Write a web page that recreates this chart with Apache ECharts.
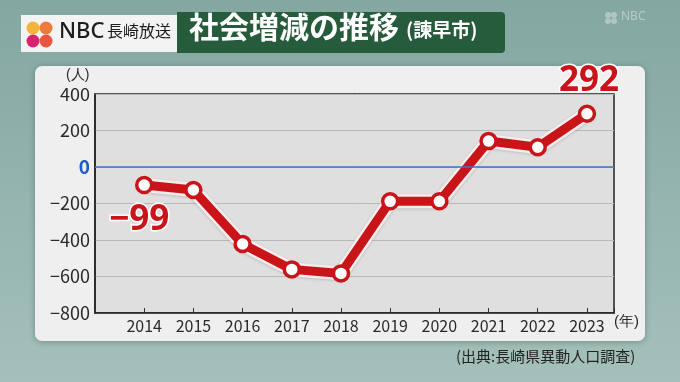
<!DOCTYPE html>
<html>
<head>
<meta charset="utf-8">
<script src="https://cdn.jsdelivr.net/npm/echarts@6/dist/echarts.min.js"></script>
<style>html,body{margin:0;padding:0;}#c{width:680px;height:382px;}</style>
</head>
<body>
<div id="c"></div>
<script>
const years = [2014, 2015, 2016, 2017, 2018, 2019, 2020, 2021, 2022, 2023];
const values = [-99, -126, -422, -561, -583, -188, -188, 142, 108, 292];
const labeledYears = [2014, 2023];
const yTicks = [-800, -600, -400, -200, 0, 200, 400];
const titleText = '社会増減の推移';
const subTitleText = '(諫早市)';
const sourceText = '(出典:長崎県異動人口調査)';

const FONT = '"Noto Sans CJK JP", "Noto Sans", sans-serif';
const RED = '#c9151a';
const fmt = v => String(v).replace('-', '−');

const lineData = years.map((y, i) => {
  const d = { value: [y, values[i]] };
  if (labeledYears.indexOf(y) >= 0) {
    const first = i === 0;
    d.label = {
      show: true,
      formatter: p => fmt(p.value[1]),
      position: first ? 'bottom' : 'top',
      distance: first ? 8 : 6,
      offset: first ? [-5, 0] : [2, 0],
      fontSize: 35,
      fontWeight: 'bold',
      fontFamily: '"Noto Sans", sans-serif',
      color: RED,
      textBorderColor: '#ffffff',
      textBorderWidth: 3
    };
  }
  return d;
});
const underData = years.map((y, i) => [y, values[i]]);

const chart = echarts.init(document.getElementById('c'), null, { renderer: 'canvas' });
chart.setOption({
  animation: false,
  backgroundColor: {
    type: 'linear', x: 0, y: 0, x2: 0, y2: 1,
    colorStops: [{ offset: 0, color: '#84a7a1' }, { offset: 1, color: '#a4c0ba' }]
  },
  textStyle: { fontFamily: FONT },
  grid: {
    left: 95, right: 66, top: 94, bottom: 69,
    show: true,
    backgroundColor: '#dfdfdf',
    borderColor: '#222',
    borderWidth: 1.5
  },
  xAxis: {
    type: 'value',
    min: 2013, max: 2023.55, interval: 1,
    axisLine: { show: true, onZero: false, lineStyle: { color: '#222', width: 1.5 } },
    axisTick: { show: true, inside: true, length: 5, lineStyle: { color: '#333' } },
    splitLine: { show: false },
    axisLabel: {
      fontSize: 16, color: '#2a2a2a', margin: 5, fontFamily: FONT,
      formatter: v => (Number.isInteger(v) && years.indexOf(v) >= 0) ? String(v) : ''
    }
  },
  yAxis: {
    type: 'value',
    min: yTicks[0], max: yTicks[yTicks.length - 1], interval: 200,
    axisLine: { show: true, lineStyle: { color: '#222', width: 1.5 } },
    axisTick: { show: false },
    splitLine: { show: true, lineStyle: { color: '#b8b8b8', width: 1 } },
    axisLabel: {
      fontSize: 18, color: '#2a2a2a', margin: 5, fontFamily: FONT,
      formatter: v => v === 0 ? '{z|0}' : fmt(v),
      rich: { z: { color: '#1d5fc4', fontWeight: 'bold', fontSize: 19, fontFamily: FONT } }
    }
  },
  series: [
    {
      type: 'line', data: underData, symbol: 'none', silent: true, z: 2,
      lineStyle: { color: '#f6ecec', width: 14, shadowColor: 'rgba(0,0,0,0.15)', shadowBlur: 3, shadowOffsetY: 1 },
      markLine: {
        silent: true, symbol: 'none', label: { show: false },
        lineStyle: { color: '#3b74c9', width: 1.5, type: 'solid' },
        data: [{ yAxis: 0 }]
      }
    },
    {
      type: 'line', data: lineData, z: 3,
      symbol: 'circle', symbolSize: 15,
      lineStyle: { color: RED, width: 9 },
      itemStyle: { color: '#ffffff', borderColor: RED, borderWidth: 3.5 }
    }
  ],
  graphic: [
    { type: 'rect', z: -10, shape: { x: 35, y: 66, width: 610, height: 275, r: 7 },
      style: { fill: '#efefef', shadowColor: 'rgba(0,0,0,0.25)', shadowBlur: 6, shadowOffsetY: 1 } },
    { type: 'text', left: 66, top: 68, style: { text: '(人)', fontSize: 14, fill: '#2a2a2a', font: '14px ' + FONT } },
    { type: 'text', left: 614, top: 314, style: { text: '(年)', fontSize: 15, fill: '#2a2a2a', font: '15px ' + FONT } },
    { type: 'text', left: 456, top: 349, style: { text: sourceText, fill: '#222', font: '15px ' + FONT } },
    // header white box
    { type: 'rect', shape: { x: 21, y: 15, width: 157, height: 37 }, style: { fill: '#f3f3f3' } },
    { type: 'circle', shape: { cx: 33, cy: 28, r: 6.5 }, style: { fill: '#f2b53a' } },
    { type: 'circle', shape: { cx: 46, cy: 28, r: 6.5 }, style: { fill: '#ee7b3c' } },
    { type: 'circle', shape: { cx: 33, cy: 41, r: 6.5 }, style: { fill: '#d8246f' } },
    { type: 'circle', shape: { cx: 46, cy: 41, r: 6.5 }, style: { fill: '#e9563f' } },
    { type: 'text', left: 59, top: 21, style: { text: 'NBC', fill: '#1c1c1c', font: '500 22px "Noto Sans", sans-serif' } },
    { type: 'text', left: 107, top: 23, style: { text: '長崎放送', fill: '#1c1c1c', font: '16px ' + FONT } },
    // header green box
    { type: 'rect', shape: { x: 177, y: 12, width: 328, height: 41, r: [0, 4, 4, 0] }, style: { fill: '#265c3c' } },
    { type: 'text', left: 189, top: 12, style: { text: titleText, fill: '#ffffff', font: 'bold 30px ' + FONT } },
    { type: 'text', left: 406, top: 20, style: { text: subTitleText, fill: '#ffffff', font: 'bold 19px ' + FONT } },
    // faint top-right logo
    { type: 'circle', shape: { cx: 608, cy: 15, r: 3 }, style: { fill: 'rgba(255,255,255,0.35)' } },
    { type: 'circle', shape: { cx: 614, cy: 15, r: 3 }, style: { fill: 'rgba(255,255,255,0.35)' } },
    { type: 'circle', shape: { cx: 608, cy: 21, r: 3 }, style: { fill: 'rgba(255,255,255,0.35)' } },
    { type: 'circle', shape: { cx: 614, cy: 21, r: 3 }, style: { fill: 'rgba(255,255,255,0.35)' } },
    { type: 'text', left: 621, top: 11, style: { text: 'NBC', fill: 'rgba(255,255,255,0.4)', font: '12px "Noto Sans", sans-serif' } }
  ]
});
</script>
</body>
</html>
